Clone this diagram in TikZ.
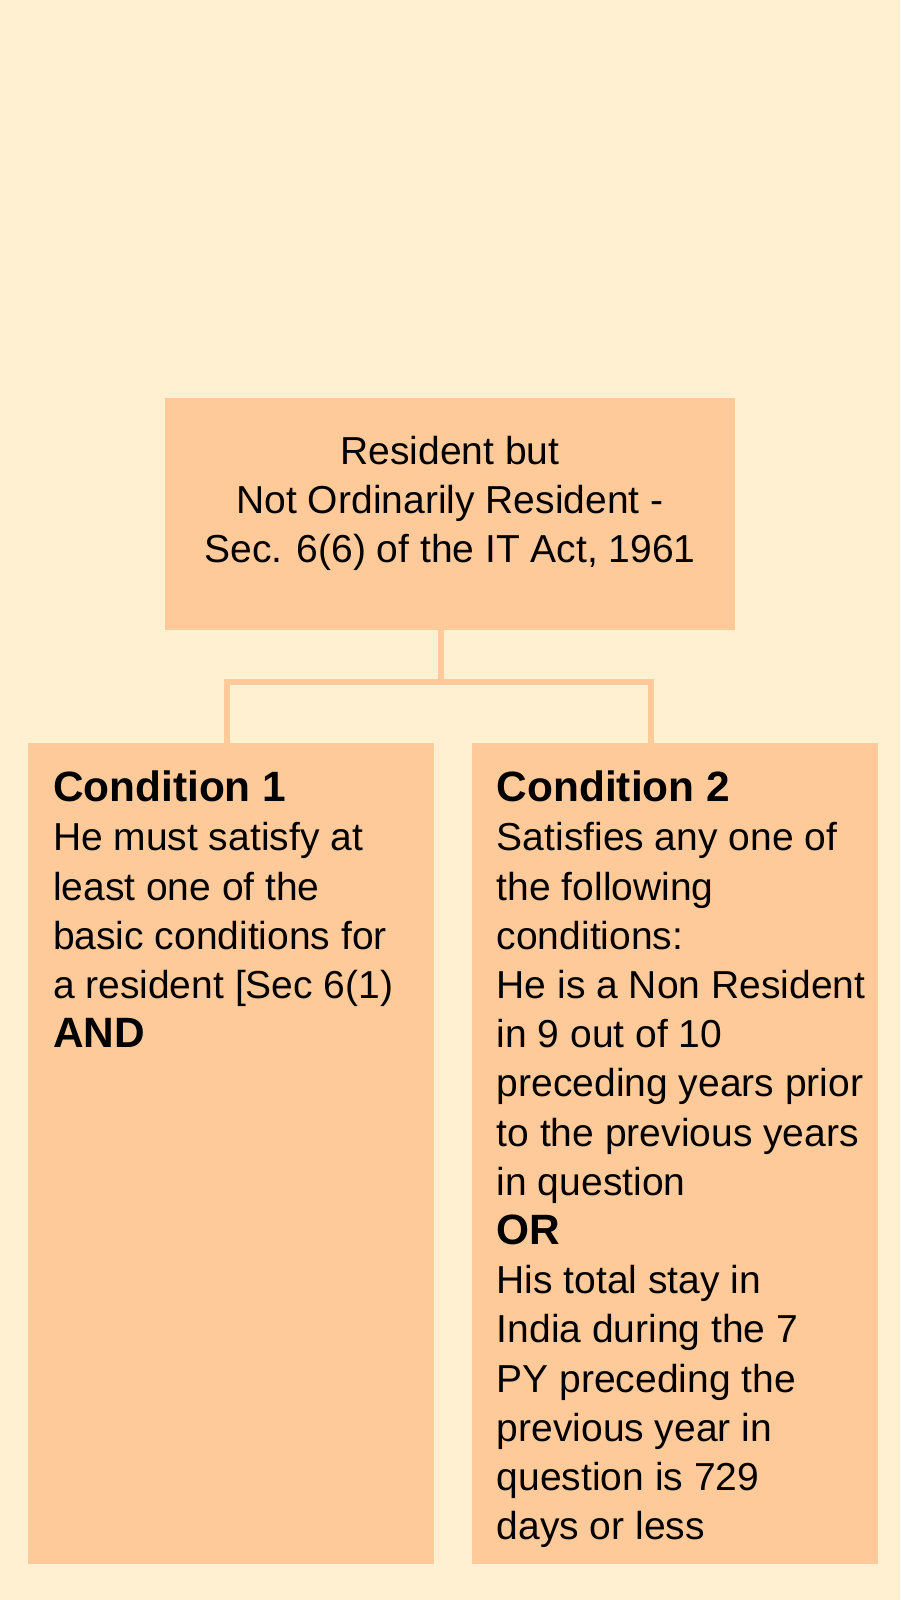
\documentclass[tikz,border=0pt]{standalone}
\usepackage{fontspec}
\setmainfont{Liberation Sans}
\usepackage{xcolor}
\usetikzlibrary{positioning}
\definecolor{cream}{HTML}{FFF0D1}
\definecolor{peach}{HTML}{FFCA99}
\newcommand{\condhead}[1]{{\fontsize{21.2}{24.6}\selectfont\bfseries #1}}

\begin{document}
\begin{tikzpicture}[
  x=0.5pt, y=0.5pt,
  box/.style={fill=peach, draw=none, inner sep=0pt},
  head/.style={box, minimum width=285pt, minimum height=116pt},
  cond/.style={box, minimum width=203pt, minimum height=410.5pt},
  txt/.style={inner sep=0pt, font=\fontsize{19.5}{24.6}\selectfont},
  link/.style={draw=peach, line width=2.75pt}
]
\fill[cream] (0,0) rectangle (900,-1600);

\node[head] (rnor) at (450,-514) {};
\node[txt, align=center, below=19pt of rnor.north] (rnortxt) {Resident but\\ Not Ordinarily Resident -\\ Sec. 6(6) of the IT Act, 1961};

\node[cond] (c1) at (231,-1153.5) {};
\node[cond, right=18.5pt of c1] (c2) {};
\node[txt, align=left, below right=14pt and 12.5pt of c1.north west] (c1txt) {\condhead{Condition 1}\\ He must satisfy at\\ least one of the\\ basic conditions for\\ a resident [Sec 6(1)\\ \condhead{AND}};
\node[txt, align=left, below right=14pt and 12.5pt of c2.north west] (c2txt) {\condhead{Condition 2}\\ Satisfies any one of\\ the following\\ conditions:\\ He is a Non Resident\\ in 9 out of 10\\ preceding years prior\\ to the previous years\\ in question\\ \condhead{OR}\\ His total stay in\\ India during the 7\\ PY preceding the\\ previous year in\\ question is 729\\ days or less};

% joints of the tree
\coordinate (jm) at (441,-682);
\coordinate (jl) at (227,-682);
\coordinate (jr) at (651,-682);
\draw[link] (rnor.south -| jm) -- (jm);
\draw[link] (c1.north -| jl) |- (jr) -- (c2.north -| jr);

\end{tikzpicture}
\end{document}
